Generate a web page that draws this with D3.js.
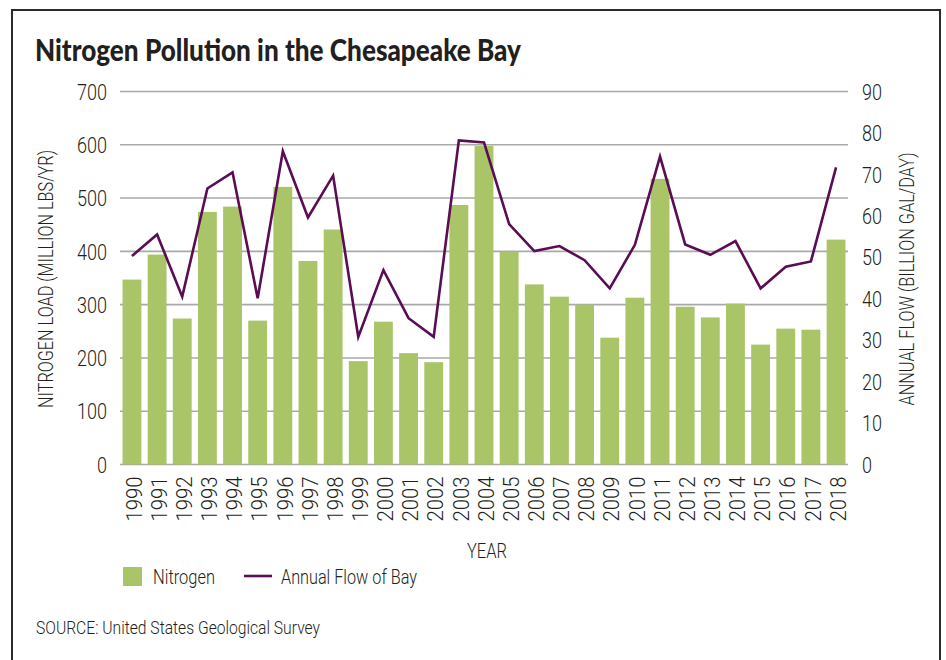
<!DOCTYPE html>
<html>
<head>
<meta charset="utf-8">
<script src="https://cdn.jsdelivr.net/npm/d3@7"></script>
<style>
html,body{margin:0;padding:0;background:#fff;}
svg{display:block;}
text{font-family:"Roboto","Open Sans",sans-serif;font-weight:300;fill:#231f20;}
</style>
</head>
<body>
<svg id="chart" width="946" height="660"></svg>
<script>
const years = ["1990","1991","1992","1993","1994","1995","1996","1997","1998","1999","2000","2001","2002","2003","2004","2005","2006","2007","2008","2009","2010","2011","2012","2013","2014","2015","2016","2017","2018"];
const nitrogen = [347,394,274,474,484,270,521,382,441,194,268,209,192,487,598,399,338,315,300,238,313,536,296,276,302,225,255,253,422];
const flow = [50.3,55.5,40.5,66.6,70.5,40.1,75.6,59.6,69.7,30.8,46.9,35.3,30.8,78.2,77.7,58.0,51.5,52.7,49.3,42.5,53.0,74.3,53.1,50.6,53.9,42.5,47.7,49.0,71.7];
const leftTicks = [0,100,200,300,400,500,600,700];
const rightTicks = [0,10,20,30,40,50,60,70,80,90];

const svg = d3.select("#chart");
const M = {left:120, right:848, top:91.5, bottom:464.5};
function fit(sel, fn){ sel.attr("textLength", fn).attr("lengthAdjust","spacingAndGlyphs"); }

// frame
svg.append("rect").attr("x",12).attr("y",10).attr("width",928).attr("height",670)
  .attr("fill","none").attr("stroke","#2b2b2b").attr("stroke-width",2);

svg.append("text").attr("x",35).attr("y",61).attr("font-size",30)
  .style("font-family",'"Lato","Roboto",sans-serif').style("font-weight",900)
  .attr("textLength",486).attr("lengthAdjust","spacingAndGlyphs")
  .text("Nitrogen Pollution in the Chesapeake Bay");

const x = d3.scaleBand().domain(years).range([M.left,M.right]).paddingInner(0.25).paddingOuter(0.1);
const yL = d3.scaleLinear().domain([0,700]).range([M.bottom,M.top]);
const yR = d3.scaleLinear().domain([0,90]).range([M.bottom,M.top]);

// gridlines
svg.append("g").selectAll("line").data(leftTicks).join("line")
  .attr("x1",M.left).attr("x2",M.right).attr("y1",d=>yL(d)).attr("y2",d=>yL(d))
  .attr("stroke","#a9a9a9").attr("stroke-width",1.6);

// left axis labels
const axL = svg.append("g").attr("transform",`translate(${M.left},0)`)
  .call(d3.axisLeft(yL).tickValues(leftTicks).tickSize(0).tickPadding(13));
axL.select(".domain").remove();
axL.selectAll("text").attr("font-size",22).attr("fill","#231f20").attr("dy","0.35em");
fit(axL.selectAll("text"), d=>String(d).length*10);

const axR = svg.append("g").attr("transform",`translate(${M.right},0)`)
  .call(d3.axisRight(yR).tickValues(rightTicks).tickSize(0).tickPadding(14));
axR.select(".domain").remove();
axR.selectAll("text").attr("font-size",22).attr("fill","#231f20").attr("dy","0.35em");
fit(axR.selectAll("text"), d=>String(d).length*10);

// bars
svg.append("g").selectAll("rect").data(years).join("rect")
  .attr("x",d=>x(d)).attr("width",x.bandwidth())
  .attr("y",(d,i)=>yL(nitrogen[i])).attr("height",(d,i)=>yL(0)-yL(nitrogen[i]))
  .attr("fill","#aac468");

// line
const line = d3.line().x((d,i)=>x(years[i])+x.bandwidth()/2).y(d=>yR(d));
svg.append("path").datum(flow).attr("d",line).attr("fill","none")
  .attr("stroke","#5a0c55").attr("stroke-width",2.6).attr("stroke-linejoin","miter");

// x axis labels
const axX = svg.append("g").attr("transform",`translate(0,${M.bottom})`)
  .call(d3.axisBottom(x).tickSize(0).tickPadding(0));
axX.select(".domain").remove();
axX.selectAll("text").attr("font-size",22).attr("fill","#231f20")
  .attr("transform","rotate(-90)").attr("text-anchor","end")
  .attr("x",-12).attr("y",2).attr("dy","0.35em");
fit(axX.selectAll("text"), 45);

// axis titles
const t1 = svg.append("text").attr("transform","translate(53,279) rotate(-90)").attr("text-anchor","middle")
  .attr("font-size",20).text("NITROGEN LOAD (MILLION LBS/YR)");
fit(t1, 258);
const t2 = svg.append("text").attr("transform","translate(914,279) rotate(-90)").attr("text-anchor","middle")
  .attr("font-size",20).text("ANNUAL FLOW (BILLION GAL/DAY)");
fit(t2, 253);
const t3 = svg.append("text").attr("x",487).attr("y",558).attr("text-anchor","middle")
  .attr("font-size",20).text("YEAR");
fit(t3, 40);

// legend
svg.append("rect").attr("x",123).attr("y",567).attr("width",19).attr("height",19).attr("fill","#aac468");
fit(svg.append("text").attr("x",153).attr("y",584).attr("font-size",21).attr("fill","#333").text("Nitrogen"), 62);
svg.append("line").attr("x1",244).attr("x2",272).attr("y1",576).attr("y2",576)
  .attr("stroke","#5a0c55").attr("stroke-width",2.6);
fit(svg.append("text").attr("x",281).attr("y",584).attr("font-size",21).attr("fill","#333").text("Annual Flow of Bay"), 136);

fit(svg.append("text").attr("x",36).attr("y",634).attr("font-size",19).attr("fill","#231f20")
  .text("SOURCE: United States Geological Survey"), 284);
</script>
</body>
</html>
